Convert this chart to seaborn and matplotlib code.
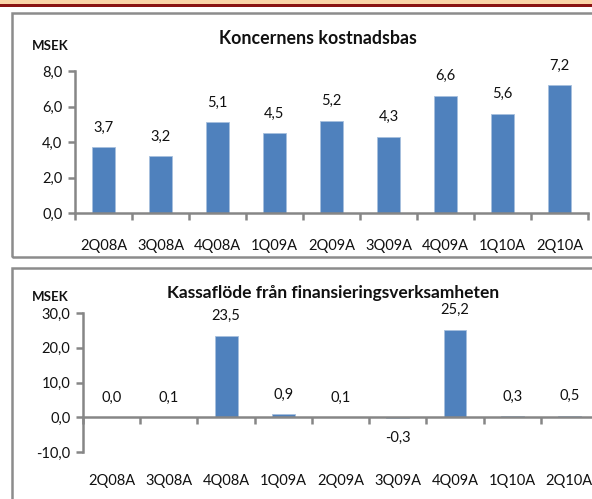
import matplotlib
matplotlib.use("Agg")
import matplotlib.pyplot as plt
import matplotlib.patches as mpatches
import matplotlib.transforms as mtransforms
import seaborn as sns
import pandas as pd

categories = ["2Q08A", "3Q08A", "4Q08A", "1Q09A", "2Q09A", "3Q09A", "4Q09A", "1Q10A", "2Q10A"]
kostnadsbas = [3.7, 3.2, 5.1, 4.5, 5.2, 4.3, 6.6, 5.6, 7.2]
kassaflode = [0.0, 0.1, 23.5, 0.9, 0.1, -0.3, 25.2, 0.3, 0.5]
title_top = "Koncernens kostnadsbas"
title_bottom = "Kassaflöde från finansieringsverksamheten"
unit = "MSEK"
yticks_top = [0, 2, 4, 6, 8]
yticks_bottom = [-10, 0, 10, 20, 30]

sns.set_theme(style="white")
plt.rcParams["font.family"] = ["Lato", "DejaVu Sans"]

W, H = 592, 499
fig = plt.figure(figsize=(W / 100, H / 100), dpi=100)
fig.patch.set_facecolor("white")

BAR = "#4F81BD"
AX = "#868686"
FS = 10.5
TXT = "#111111"


def px_rect(x0, y0, x1, y1):
    return [x0 / W, 1 - y1 / H, (x1 - x0) / W, (y1 - y0) / H]


def fmt(v):
    return f"{v:.1f}".replace(".", ",")


# decorative top band
fig.patches.append(mpatches.Rectangle((0, 1 - 4 / H), 1, 4 / H, transform=fig.transFigure,
                                      facecolor="#FBD5A8", edgecolor="none"))
fig.patches.append(mpatches.Rectangle((0, 1 - 7 / H), 1, 3 / H, transform=fig.transFigure,
                                      facecolor="#8B1414", edgecolor="none"))
# chart frames
fig.patches.append(mpatches.Rectangle((12 / W, 1 - 257 / H), 600 / W, 244 / H,
                                      transform=fig.transFigure, facecolor="none",
                                      edgecolor="#8C8C8C", linewidth=1.8))
fig.patches.append(mpatches.Rectangle((12 / W, 1 - 520 / H), 600 / W, 252 / H,
                                      transform=fig.transFigure, facecolor="none",
                                      edgecolor="#8C8C8C", linewidth=1.8))


def style_axes(ax, yticks):
    for s in ["top", "right"]:
        ax.spines[s].set_visible(False)
    for s in ["left", "bottom"]:
        ax.spines[s].set_color(AX)
        ax.spines[s].set_linewidth(1.8)
    ax.set_yticks(yticks)
    ax.set_yticklabels([fmt(v) for v in yticks], fontsize=FS, color=TXT)
    ax.tick_params(axis="y", direction="out", length=5, width=1.8, color=AX, pad=4, left=True)
    ax.set_xlabel("")
    ax.set_ylabel("")
    ax.set_facecolor("none")
    ax.grid(False)
    n = len(categories)
    ax.set_xlim(-0.5, n - 0.5)
    ax.set_xticks([i + 0.5 for i in range(-1, n)], minor=True)
    ax.tick_params(axis="x", which="minor", direction="out", length=5, width=1.8, color=AX, bottom=True)
    ax.tick_params(axis="x", which="major", length=0)


# ---- top chart
ax1 = fig.add_axes(px_rect(75, 71, 588, 213))
df1 = pd.DataFrame({"kvartal": categories, "värde": kostnadsbas})
sns.barplot(data=df1, x="kvartal", y="värde", color=BAR, width=0.4, ax=ax1,
            edgecolor="#A7C0DE", linewidth=0.6, saturation=1)
ax1.set_ylim(0, 8)
style_axes(ax1, yticks_top)
ax1.set_xticks(range(len(categories)))
ax1.set_xticklabels(categories, fontsize=FS, color=TXT)
ax1.tick_params(axis="x", which="major", pad=19)
ax1.bar_label(ax1.containers[0], labels=[fmt(v) for v in kostnadsbas], padding=9,
              fontsize=FS, color=TXT)
fig.text(318 / W, 1 - 38 / H, title_top, ha="center", va="center", fontsize=12.8,
         fontweight="bold", color=TXT)
fig.text(32 / W, 1 - 46 / H, unit, ha="left", va="center", fontsize=9.5,
         fontweight="bold", color=TXT)

# ---- bottom chart
ax2 = fig.add_axes(px_rect(83, 313, 598, 452))
df2 = pd.DataFrame({"kvartal": categories, "värde": kassaflode})
sns.barplot(data=df2, x="kvartal", y="värde", color=BAR, width=0.4, ax=ax2,
            edgecolor="#A7C0DE", linewidth=0.6, saturation=1)
ax2.set_ylim(-10, 30)
style_axes(ax2, yticks_bottom)
ax2.spines["bottom"].set_position(("data", 0))
ax2.set_xticks(range(len(categories)))
ax2.set_xticklabels([])
trans = mtransforms.blended_transform_factory(ax2.transData, ax2.transAxes)
for i, c in enumerate(categories):
    ax2.text(i, -29 / 139, c, transform=trans, ha="center", va="center",
             fontsize=FS, color=TXT, clip_on=False)
ax2.bar_label(ax2.containers[0], labels=[fmt(v) for v in kassaflode], padding=9,
              fontsize=FS, color=TXT)
fig.text(333 / W, 1 - 293 / H, title_bottom, ha="center", va="center", fontsize=12.5,
         fontweight="bold", color=TXT)
fig.text(32 / W, 1 - 297 / H, unit, ha="left", va="center", fontsize=9.5,
         fontweight="bold", color=TXT)

fig.savefig("out.png", dpi=100, facecolor="white")
